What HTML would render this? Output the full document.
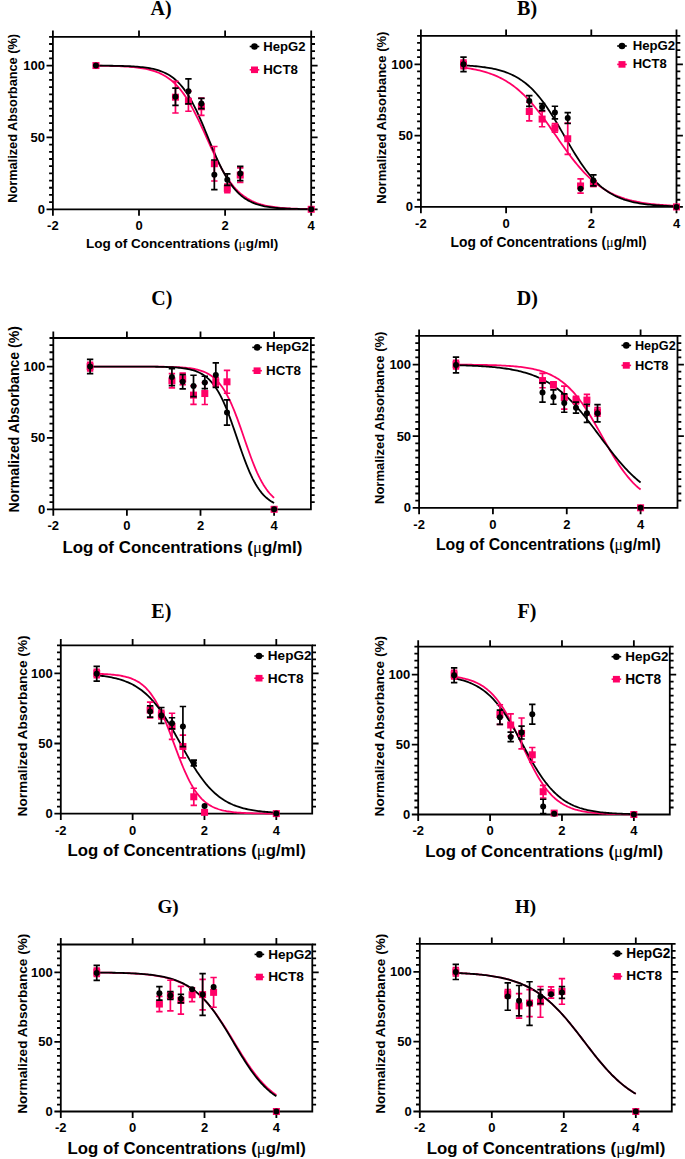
<!DOCTYPE html>
<html><head><meta charset="utf-8"><title>Dose response curves</title>
<style>html,body{margin:0;padding:0;background:#fff;}svg{display:block;}</style>
</head><body>
<svg width="685" height="1159" viewBox="0 0 685 1159" font-family='"Liberation Sans", sans-serif' font-weight="bold">
<rect width="685" height="1159" fill="#fff"/>
<g><path d="M52.9 36.8H311.2V209.3H52.9Z" fill="none" stroke="#000" stroke-width="1.8"/>
<path d="M52.9 209.3H46.5M311.2 209.3H317.6M52.9 202.11H49.1M311.2 202.11H315M52.9 194.93H49.1M311.2 194.93H315M52.9 187.74H49.1M311.2 187.74H315M52.9 180.55H49.1M311.2 180.55H315M52.9 173.36H49.1M311.2 173.36H315M52.9 166.18H49.1M311.2 166.18H315M52.9 158.99H49.1M311.2 158.99H315M52.9 151.8H49.1M311.2 151.8H315M52.9 144.61H49.1M311.2 144.61H315M52.9 137.43H46.5M311.2 137.43H317.6M52.9 130.24H49.1M311.2 130.24H315M52.9 123.05H49.1M311.2 123.05H315M52.9 115.86H49.1M311.2 115.86H315M52.9 108.68H49.1M311.2 108.68H315M52.9 101.49H49.1M311.2 101.49H315M52.9 94.3H49.1M311.2 94.3H315M52.9 87.11H49.1M311.2 87.11H315M52.9 79.93H49.1M311.2 79.93H315M52.9 72.74H49.1M311.2 72.74H315M52.9 65.55H46.5M311.2 65.55H317.6M52.9 58.36H49.1M311.2 58.36H315M52.9 51.18H49.1M311.2 51.18H315M52.9 43.99H49.1M311.2 43.99H315M52.9 36.8H49.1M311.2 36.8H315M52.9 209.3V215.7M52.9 36.8V30.4M139 209.3V215.7M139 36.8V30.4M225.1 209.3V215.7M225.1 36.8V30.4M311.2 209.3V215.7M311.2 36.8V30.4" fill="none" stroke="#000" stroke-width="1.8"/>
<text x="44.9" y="213.85" text-anchor="end" font-size="13">0</text>
<text x="44.9" y="141.98" text-anchor="end" font-size="13">50</text>
<text x="44.9" y="70.1" text-anchor="end" font-size="13">100</text>
<text x="52.9" y="230.2" text-anchor="middle" font-size="13">-2</text>
<text x="139" y="230.2" text-anchor="middle" font-size="13">0</text>
<text x="225.1" y="230.2" text-anchor="middle" font-size="13">2</text>
<text x="311.2" y="230.2" text-anchor="middle" font-size="13">4</text>
<polyline points="95.95,65.71 97.74,65.73 99.54,65.75 101.33,65.77 103.12,65.8 104.92,65.83 106.71,65.86 108.51,65.9 110.3,65.94 112.09,65.98 113.89,66.03 115.68,66.09 117.47,66.15 119.27,66.22 121.06,66.3 122.86,66.38 124.65,66.48 126.44,66.59 128.24,66.71 130.03,66.84 131.83,66.99 133.62,67.16 135.41,67.34 137.21,67.55 139,67.78 140.79,68.03 142.59,68.32 144.38,68.63 146.18,68.98 147.97,69.37 149.76,69.8 151.56,70.28 153.35,70.82 155.14,71.41 156.94,72.06 158.73,72.78 160.53,73.58 162.32,74.45 164.11,75.42 165.91,76.48 167.7,77.65 169.49,78.93 171.29,80.33 173.08,81.86 174.88,83.53 176.67,85.34 178.46,87.29 180.26,89.41 182.05,91.69 183.84,94.13 185.64,96.74 187.43,99.52 189.23,102.46 191.02,105.57 192.81,108.83 194.61,112.24 196.4,115.79 198.19,119.45 199.99,123.21 201.78,127.06 203.58,130.97 205.37,134.92 207.16,138.88 208.96,142.84 210.75,146.76 212.54,150.63 214.34,154.42 216.13,158.11 217.93,161.68 219.72,165.13 221.51,168.43 223.31,171.58 225.1,174.57 226.89,177.39 228.69,180.05 230.48,182.53 232.28,184.85 234.07,187.01 235.86,189.01 237.66,190.86 239.45,192.56 241.24,194.13 243.04,195.56 244.83,196.87 246.63,198.07 248.42,199.16 250.21,200.15 252.01,201.05 253.8,201.87 255.59,202.61 257.39,203.28 259.18,203.88 260.98,204.43 262.77,204.92 264.56,205.37 266.36,205.77 268.15,206.13 269.94,206.45 271.74,206.75 273.53,207.01 275.33,207.24 277.12,207.46 278.91,207.65 280.71,207.82 282.5,207.97 284.29,208.11 286.09,208.23 287.88,208.34 289.68,208.44 291.47,208.53 293.26,208.61 295.06,208.68 296.85,208.75 298.64,208.8 300.44,208.86 302.23,208.9 304.02,208.94 305.82,208.98 307.61,209.01 309.41,209.04 311.2,209.07" fill="none" stroke="#ff0066" stroke-width="1.8" stroke-linejoin="round"/>
<polyline points="95.95,65.62 97.74,65.63 99.54,65.64 101.33,65.65 103.12,65.67 104.92,65.68 106.71,65.7 108.51,65.72 110.3,65.74 112.09,65.76 113.89,65.79 115.68,65.82 117.47,65.86 119.27,65.9 121.06,65.94 122.86,65.99 124.65,66.05 126.44,66.11 128.24,66.18 130.03,66.27 131.83,66.36 133.62,66.46 135.41,66.58 137.21,66.71 139,66.86 140.79,67.03 142.59,67.22 144.38,67.43 146.18,67.67 147.97,67.94 149.76,68.25 151.56,68.59 153.35,68.97 155.14,69.41 156.94,69.89 158.73,70.44 160.53,71.04 162.32,71.73 164.11,72.49 165.91,73.34 167.7,74.28 169.49,75.34 171.29,76.51 173.08,77.81 174.88,79.25 176.67,80.83 178.46,82.58 180.26,84.5 182.05,86.59 183.84,88.88 185.64,91.35 187.43,94.04 189.23,96.92 191.02,100.01 192.81,103.31 194.61,106.79 196.4,110.47 198.19,114.31 199.99,118.31 201.78,122.44 203.58,126.68 205.37,131 207.16,135.36 208.96,139.74 210.75,144.1 212.54,148.41 214.34,152.64 216.13,156.76 217.93,160.76 219.72,164.59 221.51,168.26 223.31,171.73 225.1,175.02 226.89,178.1 228.69,180.97 230.48,183.64 232.28,186.11 234.07,188.38 235.86,190.47 237.66,192.37 239.45,194.11 241.24,195.69 243.04,197.12 244.83,198.41 246.63,199.57 248.42,200.62 250.21,201.56 252.01,202.41 253.8,203.17 255.59,203.84 257.39,204.45 259.18,204.99 260.98,205.47 262.77,205.9 264.56,206.28 266.36,206.62 268.15,206.92 269.94,207.19 271.74,207.43 273.53,207.64 275.33,207.83 277.12,208 278.91,208.15 280.71,208.28 282.5,208.39 284.29,208.5 286.09,208.59 287.88,208.67 289.68,208.74 291.47,208.81 293.26,208.86 295.06,208.91 296.85,208.96 298.64,209 300.44,209.03 302.23,209.06 304.02,209.09 305.82,209.11 307.61,209.13 309.41,209.15 311.2,209.17" fill="none" stroke="#000" stroke-width="1.8" stroke-linejoin="round"/>
<rect x="92.45" y="62.05" width="7" height="7" fill="#ff0066"/>
<path d="M175.46 112.99V81.36M172.26 112.99H178.66M172.26 81.36H178.66" stroke="#ff0066" stroke-width="1.7" fill="none"/>
<rect x="171.96" y="93.68" width="7" height="7" fill="#ff0066"/>
<path d="M188.42 111.26V91.14M185.22 111.26H191.62M185.22 91.14H191.62" stroke="#ff0066" stroke-width="1.7" fill="none"/>
<rect x="184.92" y="97.7" width="7" height="7" fill="#ff0066"/>
<path d="M201.38 115.43V98.18M198.18 115.43H204.58M198.18 98.18H204.58" stroke="#ff0066" stroke-width="1.7" fill="none"/>
<rect x="197.88" y="103.31" width="7" height="7" fill="#ff0066"/>
<path d="M214.34 180.98V146.48M211.14 180.98H217.54M211.14 146.48H217.54" stroke="#ff0066" stroke-width="1.7" fill="none"/>
<rect x="210.84" y="160.23" width="7" height="7" fill="#ff0066"/>
<path d="M227.3 192.77V184.14M224.1 192.77H230.5M224.1 184.14H230.5" stroke="#ff0066" stroke-width="1.7" fill="none"/>
<rect x="223.8" y="184.96" width="7" height="7" fill="#ff0066"/>
<path d="M240.25 182.28V167.9M237.05 182.28H243.45M237.05 167.9H243.45" stroke="#ff0066" stroke-width="1.7" fill="none"/>
<rect x="236.75" y="171.59" width="7" height="7" fill="#ff0066"/>
<rect x="307.7" y="205.8" width="7" height="7" fill="#ff0066"/>
<circle cx="95.95" cy="65.55" r="3.0" fill="#000"/>
<path d="M175.46 105.37V88.12M172.26 105.37H178.66M172.26 88.12H178.66" stroke="#000" stroke-width="1.7" fill="none"/>
<circle cx="175.46" cy="96.74" r="3.0" fill="#000"/>
<path d="M188.42 103.79V78.78M185.22 103.79H191.62M185.22 78.78H191.62" stroke="#000" stroke-width="1.7" fill="none"/>
<circle cx="188.42" cy="91.28" r="3.0" fill="#000"/>
<path d="M201.38 108.53V98.47M198.18 108.53H204.58M198.18 98.47H204.58" stroke="#000" stroke-width="1.7" fill="none"/>
<circle cx="201.38" cy="103.5" r="3.0" fill="#000"/>
<path d="M214.34 189.61V159.99M211.14 189.61H217.54M211.14 159.99H217.54" stroke="#000" stroke-width="1.7" fill="none"/>
<circle cx="214.34" cy="174.8" r="3.0" fill="#000"/>
<path d="M227.3 185.44V173.94M224.1 185.44H230.5M224.1 173.94H230.5" stroke="#000" stroke-width="1.7" fill="none"/>
<circle cx="227.3" cy="179.69" r="3.0" fill="#000"/>
<path d="M240.25 180.69V166.32M237.05 180.69H243.45M237.05 166.32H243.45" stroke="#000" stroke-width="1.7" fill="none"/>
<circle cx="240.25" cy="173.51" r="3.0" fill="#000"/>
<circle cx="311.2" cy="209.3" r="3.0" fill="#000"/>
<path d="M249.7 46.5H259.3" stroke="#000" stroke-width="1.6"/>
<circle cx="254.5" cy="46.5" r="3.3" fill="#000"/>
<text x="263.28" y="50.5" font-size="13.15" textLength="42.22" lengthAdjust="spacingAndGlyphs">HepG2</text>
<path d="M249.7 69.8H259.3" stroke="#ff0066" stroke-width="1.6"/>
<rect x="251" y="66.5" width="7" height="6.6" fill="#ff0066"/>
<text x="263.27" y="74.4" font-size="13.31" textLength="34.73" lengthAdjust="spacingAndGlyphs">HCT8</text>
<text x="85.96" y="248.2" font-size="13.47" textLength="192.25" lengthAdjust="spacingAndGlyphs">Log of Concentrations (<tspan font-family='"Liberation Serif", serif' font-weight="normal">&#956;</tspan>g/ml)</text>
<text transform="translate(17.1 202.79) rotate(-90)" font-size="12.75" textLength="168.86" lengthAdjust="spacingAndGlyphs">Normalized Absorbance (%)</text>
<text x="150.6" y="14.6" font-family='"Liberation Serif", serif' font-size="20">A)</text></g>
<g><path d="M420.9 35.8H676.5V206.9H420.9Z" fill="none" stroke="#000" stroke-width="1.8"/>
<path d="M420.9 206.9H414.5M676.5 206.9H682.9M420.9 199.77H417.1M676.5 199.77H680.3M420.9 192.64H417.1M676.5 192.64H680.3M420.9 185.51H417.1M676.5 185.51H680.3M420.9 178.38H417.1M676.5 178.38H680.3M420.9 171.25H417.1M676.5 171.25H680.3M420.9 164.12H417.1M676.5 164.12H680.3M420.9 157H417.1M676.5 157H680.3M420.9 149.87H417.1M676.5 149.87H680.3M420.9 142.74H417.1M676.5 142.74H680.3M420.9 135.61H414.5M676.5 135.61H682.9M420.9 128.48H417.1M676.5 128.48H680.3M420.9 121.35H417.1M676.5 121.35H680.3M420.9 114.22H417.1M676.5 114.22H680.3M420.9 107.09H417.1M676.5 107.09H680.3M420.9 99.96H417.1M676.5 99.96H680.3M420.9 92.83H417.1M676.5 92.83H680.3M420.9 85.7H417.1M676.5 85.7H680.3M420.9 78.57H417.1M676.5 78.57H680.3M420.9 71.45H417.1M676.5 71.45H680.3M420.9 64.32H414.5M676.5 64.32H682.9M420.9 57.19H417.1M676.5 57.19H680.3M420.9 50.06H417.1M676.5 50.06H680.3M420.9 42.93H417.1M676.5 42.93H680.3M420.9 35.8H417.1M676.5 35.8H680.3M420.9 206.9V213.3M420.9 35.8V29.4M506.1 206.9V213.3M506.1 35.8V29.4M591.3 206.9V213.3M591.3 35.8V29.4M676.5 206.9V213.3M676.5 35.8V29.4" fill="none" stroke="#000" stroke-width="1.8"/>
<text x="412.9" y="211.45" text-anchor="end" font-size="13">0</text>
<text x="412.9" y="140.16" text-anchor="end" font-size="13">50</text>
<text x="412.9" y="68.87" text-anchor="end" font-size="13">100</text>
<text x="420.9" y="227.8" text-anchor="middle" font-size="13">-2</text>
<text x="506.1" y="227.8" text-anchor="middle" font-size="13">0</text>
<text x="591.3" y="227.8" text-anchor="middle" font-size="13">2</text>
<text x="676.5" y="227.8" text-anchor="middle" font-size="13">4</text>
<polyline points="463.5,67.61 465.27,67.85 467.05,68.11 468.82,68.38 470.6,68.68 472.38,68.99 474.15,69.33 475.92,69.69 477.7,70.07 479.47,70.48 481.25,70.92 483.02,71.39 484.8,71.89 486.57,72.42 488.35,72.99 490.12,73.6 491.9,74.24 493.67,74.93 495.45,75.66 497.22,76.43 499,77.25 500.77,78.12 502.55,79.05 504.32,80.02 506.1,81.06 507.88,82.15 509.65,83.31 511.42,84.52 513.2,85.8 514.97,87.15 516.75,88.56 518.52,90.04 520.3,91.6 522.07,93.22 523.85,94.91 525.62,96.68 527.4,98.51 529.17,100.42 530.95,102.39 532.73,104.43 534.5,106.54 536.27,108.71 538.05,110.94 539.83,113.22 541.6,115.56 543.38,117.95 545.15,120.38 546.92,122.84 548.7,125.34 550.47,127.86 552.25,130.41 554.02,132.96 555.8,135.53 557.58,138.09 559.35,140.65 561.12,143.19 562.9,145.72 564.67,148.22 566.45,150.68 568.23,153.12 570,155.5 571.77,157.84 573.55,160.13 575.33,162.37 577.1,164.54 578.88,166.65 580.65,168.7 582.42,170.67 584.2,172.58 585.98,174.42 587.75,176.19 589.52,177.89 591.3,179.52 593.07,181.08 594.85,182.56 596.62,183.98 598.4,185.33 600.17,186.62 601.95,187.84 603.72,188.99 605.5,190.09 607.27,191.13 609.05,192.11 610.83,193.04 612.6,193.91 614.38,194.74 616.15,195.51 617.92,196.24 619.7,196.93 621.48,197.58 623.25,198.19 625.02,198.76 626.8,199.29 628.58,199.79 630.35,200.26 632.12,200.71 633.9,201.12 635.67,201.5 637.45,201.87 639.23,202.2 641,202.52 642.77,202.81 644.55,203.09 646.33,203.35 648.1,203.59 649.88,203.81 651.65,204.02 653.42,204.22 655.2,204.4 656.98,204.57 658.75,204.73 660.52,204.88 662.3,205.02 664.07,205.15 665.85,205.27 667.62,205.38 669.4,205.49 671.17,205.58 672.95,205.67 674.72,205.76 676.5,205.84" fill="none" stroke="#ff0066" stroke-width="1.8" stroke-linejoin="round"/>
<polyline points="463.5,65.37 465.27,65.47 467.05,65.57 468.82,65.68 470.6,65.81 472.38,65.94 474.15,66.08 475.92,66.24 477.7,66.41 479.47,66.6 481.25,66.8 483.02,67.02 484.8,67.26 486.57,67.52 488.35,67.8 490.12,68.1 491.9,68.43 493.67,68.79 495.45,69.18 497.22,69.61 499,70.06 500.77,70.56 502.55,71.1 504.32,71.68 506.1,72.3 507.88,72.98 509.65,73.71 511.42,74.5 513.2,75.34 514.97,76.25 516.75,77.23 518.52,78.28 520.3,79.41 522.07,80.62 523.85,81.9 525.62,83.28 527.4,84.74 529.17,86.3 530.95,87.96 532.73,89.71 534.5,91.56 536.27,93.51 538.05,95.57 539.83,97.73 541.6,99.99 543.38,102.35 545.15,104.8 546.92,107.35 548.7,109.99 550.47,112.71 552.25,115.51 554.02,118.38 555.8,121.3 557.58,124.28 559.35,127.3 561.12,130.35 562.9,133.42 564.67,136.49 566.45,139.57 568.23,142.63 570,145.66 571.77,148.66 573.55,151.61 575.33,154.5 577.1,157.33 578.88,160.08 580.65,162.76 582.42,165.34 584.2,167.84 585.98,170.24 587.75,172.54 589.52,174.74 591.3,176.84 593.07,178.84 594.85,180.73 596.62,182.53 598.4,184.22 600.17,185.82 601.95,187.33 603.72,188.74 605.5,190.07 607.27,191.31 609.05,192.47 610.83,193.55 612.6,194.56 614.38,195.5 616.15,196.37 617.92,197.18 619.7,197.93 621.48,198.63 623.25,199.28 625.02,199.88 626.8,200.43 628.58,200.95 630.35,201.42 632.12,201.86 633.9,202.26 635.67,202.63 637.45,202.98 639.23,203.29 641,203.58 642.77,203.85 644.55,204.1 646.33,204.33 648.1,204.54 649.88,204.73 651.65,204.91 653.42,205.07 655.2,205.22 656.98,205.36 658.75,205.48 660.52,205.6 662.3,205.71 664.07,205.8 665.85,205.89 667.62,205.98 669.4,206.05 671.17,206.12 672.95,206.19 674.72,206.24 676.5,206.3" fill="none" stroke="#000" stroke-width="1.8" stroke-linejoin="round"/>
<path d="M463.5 68.59V60.04M460.3 68.59H466.7M460.3 60.04H466.7" stroke="#ff0066" stroke-width="1.7" fill="none"/>
<rect x="460" y="60.82" width="7" height="7" fill="#ff0066"/>
<path d="M529.27 120.78V102.24M526.07 120.78H532.47M526.07 102.24H532.47" stroke="#ff0066" stroke-width="1.7" fill="none"/>
<rect x="525.77" y="108.01" width="7" height="7" fill="#ff0066"/>
<path d="M542.1 126.77V111.37M538.9 126.77H545.3M538.9 111.37H545.3" stroke="#ff0066" stroke-width="1.7" fill="none"/>
<rect x="538.6" y="115.57" width="7" height="7" fill="#ff0066"/>
<path d="M554.92 132.19V123.63M551.72 132.19H558.12M551.72 123.63H558.12" stroke="#ff0066" stroke-width="1.7" fill="none"/>
<rect x="551.42" y="124.41" width="7" height="7" fill="#ff0066"/>
<path d="M567.74 154.43V123.06M564.54 154.43H570.94M564.54 123.06H570.94" stroke="#ff0066" stroke-width="1.7" fill="none"/>
<rect x="564.24" y="135.25" width="7" height="7" fill="#ff0066"/>
<path d="M580.56 193.07V178.81M577.36 193.07H583.76M577.36 178.81H583.76" stroke="#ff0066" stroke-width="1.7" fill="none"/>
<rect x="577.06" y="182.44" width="7" height="7" fill="#ff0066"/>
<path d="M593.39 186.51V180.81M590.19 186.51H596.59M590.19 180.81H596.59" stroke="#ff0066" stroke-width="1.7" fill="none"/>
<rect x="589.89" y="180.16" width="7" height="7" fill="#ff0066"/>
<rect x="673" y="203.4" width="7" height="7" fill="#ff0066"/>
<path d="M463.5 71.59V57.04M460.3 71.59H466.7M460.3 57.04H466.7" stroke="#000" stroke-width="1.7" fill="none"/>
<circle cx="463.5" cy="64.32" r="3.0" fill="#000"/>
<path d="M529.27 106.38V95.54M526.07 106.38H532.47M526.07 95.54H532.47" stroke="#000" stroke-width="1.7" fill="none"/>
<circle cx="529.27" cy="100.96" r="3.0" fill="#000"/>
<path d="M542.1 110.66V103.53M538.9 110.66H545.3M538.9 103.53H545.3" stroke="#000" stroke-width="1.7" fill="none"/>
<circle cx="542.1" cy="107.09" r="3.0" fill="#000"/>
<path d="M554.92 118.78V106.24M551.72 118.78H558.12M551.72 106.24H558.12" stroke="#000" stroke-width="1.7" fill="none"/>
<circle cx="554.92" cy="112.51" r="3.0" fill="#000"/>
<path d="M567.74 123.49V112.65M564.54 123.49H570.94M564.54 112.65H570.94" stroke="#000" stroke-width="1.7" fill="none"/>
<circle cx="567.74" cy="118.07" r="3.0" fill="#000"/>
<circle cx="580.56" cy="188.65" r="3.0" fill="#000"/>
<path d="M593.39 185.8V174.96M590.19 185.8H596.59M590.19 174.96H596.59" stroke="#000" stroke-width="1.7" fill="none"/>
<circle cx="593.39" cy="180.38" r="3.0" fill="#000"/>
<circle cx="676.5" cy="206.9" r="3.0" fill="#000"/>
<path d="M617.2 46H626.8" stroke="#000" stroke-width="1.6"/>
<circle cx="622" cy="46" r="3.3" fill="#000"/>
<text x="632.67" y="49.9" font-size="13.25" textLength="42.52" lengthAdjust="spacingAndGlyphs">HepG2</text>
<path d="M617.2 64.4H626.8" stroke="#ff0066" stroke-width="1.6"/>
<rect x="618.5" y="61.1" width="7" height="6.6" fill="#ff0066"/>
<text x="632.69" y="68.4" font-size="13.03" textLength="34" lengthAdjust="spacingAndGlyphs">HCT8</text>
<text x="450.54" y="247.2" font-size="13.74" textLength="196.09" lengthAdjust="spacingAndGlyphs">Log of Concentrations (<tspan font-family='"Liberation Serif", serif' font-weight="normal">&#956;</tspan>g/ml)</text>
<text transform="translate(385.7 203.71) rotate(-90)" font-size="13" textLength="172.09" lengthAdjust="spacingAndGlyphs">Normalized Absorbance (%)</text>
<text x="517.1" y="14.6" font-family='"Liberation Serif", serif' font-size="20">B)</text></g>
<g><path d="M53.3 338H310.9V509.3H53.3Z" fill="none" stroke="#000" stroke-width="1.8"/>
<path d="M53.3 509.3H46.9M53.3 502.16H49.5M310.9 502.16H314.7M53.3 495.03H49.5M310.9 495.03H314.7M53.3 487.89H49.5M310.9 487.89H314.7M53.3 480.75H49.5M310.9 480.75H314.7M53.3 473.61H49.5M310.9 473.61H314.7M53.3 466.48H49.5M310.9 466.48H314.7M53.3 459.34H49.5M310.9 459.34H314.7M53.3 452.2H49.5M310.9 452.2H314.7M53.3 445.06H49.5M310.9 445.06H314.7M53.3 437.93H46.9M310.9 437.93H317.3M53.3 430.79H49.5M310.9 430.79H314.7M53.3 423.65H49.5M310.9 423.65H314.7M53.3 416.51H49.5M310.9 416.51H314.7M53.3 409.38H49.5M310.9 409.38H314.7M53.3 402.24H49.5M310.9 402.24H314.7M53.3 395.1H49.5M310.9 395.1H314.7M53.3 387.96H49.5M310.9 387.96H314.7M53.3 380.83H49.5M310.9 380.83H314.7M53.3 373.69H49.5M310.9 373.69H314.7M53.3 366.55H46.9M310.9 366.55H317.3M53.3 359.41H49.5M310.9 359.41H314.7M53.3 352.27H49.5M310.9 352.27H314.7M53.3 345.14H49.5M310.9 345.14H314.7M53.3 338H49.5M310.9 338H314.7M53.3 509.3V515.7M53.3 338V331.6M126.9 509.3V515.7M126.9 338V331.6M200.5 509.3V515.7M200.5 338V331.6M274.1 509.3V515.7M274.1 338V331.6" fill="none" stroke="#000" stroke-width="1.8"/>
<text x="45.3" y="513.85" text-anchor="end" font-size="13">0</text>
<text x="45.3" y="442.48" text-anchor="end" font-size="13">50</text>
<text x="45.3" y="371.1" text-anchor="end" font-size="13">100</text>
<text x="53.3" y="530.2" text-anchor="middle" font-size="13">-2</text>
<text x="126.9" y="530.2" text-anchor="middle" font-size="13">0</text>
<text x="200.5" y="530.2" text-anchor="middle" font-size="13">2</text>
<text x="274.1" y="530.2" text-anchor="middle" font-size="13">4</text>
<polyline points="90.1,366.55 91.63,366.55 93.17,366.55 94.7,366.55 96.23,366.55 97.77,366.55 99.3,366.55 100.83,366.55 102.37,366.55 103.9,366.55 105.43,366.55 106.97,366.55 108.5,366.55 110.03,366.55 111.57,366.55 113.1,366.55 114.63,366.55 116.17,366.55 117.7,366.55 119.23,366.56 120.77,366.56 122.3,366.56 123.83,366.56 125.37,366.56 126.9,366.56 128.43,366.56 129.97,366.56 131.5,366.57 133.03,366.57 134.57,366.57 136.1,366.57 137.63,366.57 139.17,366.58 140.7,366.58 142.23,366.59 143.77,366.59 145.3,366.6 146.83,366.6 148.37,366.61 149.9,366.62 151.43,366.63 152.97,366.64 154.5,366.65 156.03,366.66 157.57,366.68 159.1,366.69 160.63,366.71 162.17,366.73 163.7,366.76 165.23,366.78 166.77,366.81 168.3,366.85 169.83,366.89 171.37,366.93 172.9,366.98 174.43,367.04 175.97,367.11 177.5,367.18 179.03,367.26 180.57,367.36 182.1,367.46 183.63,367.59 185.17,367.72 186.7,367.88 188.23,368.05 189.77,368.25 191.3,368.47 192.83,368.72 194.37,369 195.9,369.32 197.43,369.68 198.97,370.09 200.5,370.55 202.03,371.06 203.57,371.64 205.1,372.29 206.63,373.02 208.17,373.83 209.7,374.74 211.23,375.76 212.77,376.9 214.3,378.16 215.83,379.56 217.37,381.11 218.9,382.82 220.43,384.71 221.97,386.78 223.5,389.05 225.03,391.51 226.57,394.19 228.1,397.07 229.63,400.17 231.17,403.48 232.7,407 234.23,410.71 235.77,414.6 237.3,418.65 238.83,422.84 240.37,427.15 241.9,431.53 243.43,435.97 244.97,440.42 246.5,444.85 248.03,449.22 249.57,453.52 251.1,457.69 252.63,461.73 254.17,465.6 255.7,469.29 257.23,472.78 258.77,476.06 260.3,479.14 261.83,482 263.37,484.65 264.9,487.09 266.43,489.33 267.97,491.37 269.5,493.24 271.03,494.93 272.57,496.47 274.1,497.85" fill="none" stroke="#ff0066" stroke-width="1.8" stroke-linejoin="round"/>
<polyline points="90.1,366.55 91.63,366.55 93.17,366.55 94.7,366.55 96.23,366.55 97.77,366.55 99.3,366.55 100.83,366.55 102.37,366.55 103.9,366.55 105.43,366.55 106.97,366.55 108.5,366.55 110.03,366.55 111.57,366.55 113.1,366.56 114.63,366.56 116.17,366.56 117.7,366.56 119.23,366.56 120.77,366.56 122.3,366.56 123.83,366.56 125.37,366.56 126.9,366.57 128.43,366.57 129.97,366.57 131.5,366.57 133.03,366.58 134.57,366.58 136.1,366.58 137.63,366.59 139.17,366.59 140.7,366.6 142.23,366.61 143.77,366.61 145.3,366.62 146.83,366.63 148.37,366.64 149.9,366.66 151.43,366.67 152.97,366.69 154.5,366.71 156.03,366.73 157.57,366.75 159.1,366.78 160.63,366.81 162.17,366.85 163.7,366.89 165.23,366.93 166.77,366.98 168.3,367.04 169.83,367.11 171.37,367.18 172.9,367.26 174.43,367.36 175.97,367.47 177.5,367.59 179.03,367.73 180.57,367.89 182.1,368.07 183.63,368.27 185.17,368.5 186.7,368.76 188.23,369.05 189.77,369.39 191.3,369.76 192.83,370.18 194.37,370.66 195.9,371.2 197.43,371.8 198.97,372.48 200.5,373.24 202.03,374.1 203.57,375.06 205.1,376.13 206.63,377.32 208.17,378.66 209.7,380.13 211.23,381.77 212.77,383.58 214.3,385.58 215.83,387.76 217.37,390.15 218.9,392.75 220.43,395.57 221.97,398.61 223.5,401.87 225.03,405.34 226.57,409.02 228.1,412.89 229.63,416.94 231.17,421.14 232.7,425.47 234.23,429.9 235.77,434.38 237.3,438.9 238.83,443.41 240.37,447.88 241.9,452.26 243.43,456.54 244.97,460.68 246.5,464.65 248.03,468.44 249.57,472.03 251.1,475.41 252.63,478.58 254.17,481.52 255.7,484.25 257.23,486.76 258.77,489.06 260.3,491.16 261.83,493.07 263.37,494.81 264.9,496.37 266.43,497.79 267.97,499.06 269.5,500.2 271.03,501.22 272.57,502.13 274.1,502.95" fill="none" stroke="#000" stroke-width="1.8" stroke-linejoin="round"/>
<path d="M90.1 370.83V362.27M86.9 370.83H93.3M86.9 362.27H93.3" stroke="#ff0066" stroke-width="1.7" fill="none"/>
<rect x="86.6" y="363.05" width="7" height="7" fill="#ff0066"/>
<path d="M171.91 387.96V373.69M168.71 387.96H175.11M168.71 373.69H175.11" stroke="#ff0066" stroke-width="1.7" fill="none"/>
<rect x="168.41" y="377.33" width="7" height="7" fill="#ff0066"/>
<path d="M182.69 384.54V373.12M179.49 384.54H185.89M179.49 373.12H185.89" stroke="#ff0066" stroke-width="1.7" fill="none"/>
<rect x="179.19" y="375.33" width="7" height="7" fill="#ff0066"/>
<path d="M193.51 404.38V385.82M190.31 404.38H196.71M190.31 385.82H196.71" stroke="#ff0066" stroke-width="1.7" fill="none"/>
<rect x="190.01" y="391.6" width="7" height="7" fill="#ff0066"/>
<path d="M204.81 404.52V382.54M201.61 404.52H208.01M201.61 382.54H208.01" stroke="#ff0066" stroke-width="1.7" fill="none"/>
<rect x="201.31" y="390.03" width="7" height="7" fill="#ff0066"/>
<path d="M215.81 386.11V377.54M212.61 386.11H219.01M212.61 377.54H219.01" stroke="#ff0066" stroke-width="1.7" fill="none"/>
<rect x="212.31" y="378.32" width="7" height="7" fill="#ff0066"/>
<path d="M227 393.24V370.4M223.8 393.24H230.2M223.8 370.4H230.2" stroke="#ff0066" stroke-width="1.7" fill="none"/>
<rect x="223.5" y="378.32" width="7" height="7" fill="#ff0066"/>
<rect x="270.6" y="505.8" width="7" height="7" fill="#ff0066"/>
<path d="M90.1 373.69V359.41M86.9 373.69H93.3M86.9 359.41H93.3" stroke="#000" stroke-width="1.7" fill="none"/>
<circle cx="90.1" cy="366.55" r="3.0" fill="#000"/>
<path d="M171.91 385.68V368.55M168.71 385.68H175.11M168.71 368.55H175.11" stroke="#000" stroke-width="1.7" fill="none"/>
<circle cx="171.91" cy="377.11" r="3.0" fill="#000"/>
<path d="M182.69 388.96V374.69M179.49 388.96H185.89M179.49 374.69H185.89" stroke="#000" stroke-width="1.7" fill="none"/>
<circle cx="182.69" cy="381.82" r="3.0" fill="#000"/>
<path d="M193.51 396.67V375.26M190.31 396.67H196.71M190.31 375.26H196.71" stroke="#000" stroke-width="1.7" fill="none"/>
<circle cx="193.51" cy="385.96" r="3.0" fill="#000"/>
<path d="M204.81 388.53V376.26M201.61 388.53H208.01M201.61 376.26H208.01" stroke="#000" stroke-width="1.7" fill="none"/>
<circle cx="204.81" cy="382.4" r="3.0" fill="#000"/>
<path d="M215.81 387.39V362.84M212.61 387.39H219.01M212.61 362.84H219.01" stroke="#000" stroke-width="1.7" fill="none"/>
<circle cx="215.81" cy="375.12" r="3.0" fill="#000"/>
<path d="M227 425.08V399.95M223.8 425.08H230.2M223.8 399.95H230.2" stroke="#000" stroke-width="1.7" fill="none"/>
<circle cx="227" cy="412.52" r="3.0" fill="#000"/>
<circle cx="274.1" cy="509.3" r="3.0" fill="#000"/>
<path d="M252.3 347.4H261.9" stroke="#000" stroke-width="1.6"/>
<circle cx="257.1" cy="347.4" r="3.3" fill="#000"/>
<text x="266.06" y="351.4" font-size="13.38" textLength="42.94" lengthAdjust="spacingAndGlyphs">HepG2</text>
<path d="M252.3 370.7H261.9" stroke="#ff0066" stroke-width="1.6"/>
<rect x="253.6" y="367.4" width="7" height="6.6" fill="#ff0066"/>
<text x="266.06" y="375.2" font-size="13.39" textLength="34.94" lengthAdjust="spacingAndGlyphs">HCT8</text>
<text x="62.42" y="552.7" font-size="16.81" textLength="239.89" lengthAdjust="spacingAndGlyphs">Log of Concentrations (<tspan font-family='"Liberation Serif", serif' font-weight="normal">&#956;</tspan>g/ml)</text>
<text transform="translate(19 512.39) rotate(-90)" font-size="14.07" textLength="186.33" lengthAdjust="spacingAndGlyphs">Normalized Absorbance (%)</text>
<text x="151.3" y="305" font-family='"Liberation Serif", serif' font-size="20">C)</text></g>
<g><path d="M419.1 335.9H677.5V507.8H419.1Z" fill="none" stroke="#000" stroke-width="1.8"/>
<path d="M419.1 507.8H412.7M419.1 500.64H415.3M677.5 500.64H681.3M419.1 493.48H415.3M677.5 493.48H681.3M419.1 486.31H415.3M677.5 486.31H681.3M419.1 479.15H415.3M677.5 479.15H681.3M419.1 471.99H415.3M677.5 471.99H681.3M419.1 464.82H415.3M677.5 464.82H681.3M419.1 457.66H415.3M677.5 457.66H681.3M419.1 450.5H415.3M677.5 450.5H681.3M419.1 443.34H415.3M677.5 443.34H681.3M419.1 436.18H412.7M677.5 436.18H683.9M419.1 429.01H415.3M677.5 429.01H681.3M419.1 421.85H415.3M677.5 421.85H681.3M419.1 414.69H415.3M677.5 414.69H681.3M419.1 407.52H415.3M677.5 407.52H681.3M419.1 400.36H415.3M677.5 400.36H681.3M419.1 393.2H415.3M677.5 393.2H681.3M419.1 386.04H415.3M677.5 386.04H681.3M419.1 378.88H415.3M677.5 378.88H681.3M419.1 371.71H415.3M677.5 371.71H681.3M419.1 364.55H412.7M677.5 364.55H683.9M419.1 357.39H415.3M677.5 357.39H681.3M419.1 350.22H415.3M677.5 350.22H681.3M419.1 343.06H415.3M677.5 343.06H681.3M419.1 335.9H415.3M677.5 335.9H681.3M419.1 507.8V514.2M419.1 335.9V329.5M492.93 507.8V514.2M492.93 335.9V329.5M566.76 507.8V514.2M566.76 335.9V329.5M640.59 507.8V514.2M640.59 335.9V329.5" fill="none" stroke="#000" stroke-width="1.8"/>
<text x="411.1" y="512.35" text-anchor="end" font-size="13">0</text>
<text x="411.1" y="440.73" text-anchor="end" font-size="13">50</text>
<text x="411.1" y="369.1" text-anchor="end" font-size="13">100</text>
<text x="419.1" y="528.7" text-anchor="middle" font-size="13">-2</text>
<text x="492.93" y="528.7" text-anchor="middle" font-size="13">0</text>
<text x="566.76" y="528.7" text-anchor="middle" font-size="13">2</text>
<text x="640.59" y="528.7" text-anchor="middle" font-size="13">4</text>
<polyline points="456.01,364.65 457.55,364.66 459.09,364.66 460.63,364.67 462.17,364.68 463.7,364.69 465.24,364.71 466.78,364.72 468.32,364.73 469.86,364.75 471.4,364.76 472.93,364.78 474.47,364.8 476.01,364.82 477.55,364.84 479.09,364.86 480.62,364.88 482.16,364.91 483.7,364.94 485.24,364.97 486.78,365 488.31,365.04 489.85,365.08 491.39,365.12 492.93,365.17 494.47,365.22 496,365.27 497.54,365.33 499.08,365.39 500.62,365.45 502.16,365.53 503.7,365.6 505.23,365.69 506.77,365.78 508.31,365.87 509.85,365.98 511.39,366.09 512.92,366.21 514.46,366.34 516,366.48 517.54,366.63 519.08,366.8 520.61,366.97 522.15,367.16 523.69,367.37 525.23,367.59 526.77,367.83 528.3,368.08 529.84,368.36 531.38,368.65 532.92,368.97 534.46,369.31 536,369.67 537.53,370.07 539.07,370.49 540.61,370.94 542.15,371.43 543.69,371.95 545.22,372.5 546.76,373.1 548.3,373.74 549.84,374.42 551.38,375.15 552.91,375.93 554.45,376.76 555.99,377.65 557.53,378.59 559.07,379.59 560.6,380.66 562.14,381.79 563.68,382.98 565.22,384.25 566.76,385.59 568.3,387.01 569.83,388.5 571.37,390.07 572.91,391.72 574.45,393.45 575.99,395.26 577.52,397.15 579.06,399.13 580.6,401.18 582.14,403.31 583.68,405.52 585.21,407.8 586.75,410.15 588.29,412.57 589.83,415.05 591.37,417.59 592.9,420.18 594.44,422.81 595.98,425.48 597.52,428.18 599.06,430.91 600.6,433.65 602.13,436.39 603.67,439.14 605.21,441.88 606.75,444.6 608.29,447.3 609.82,449.96 611.36,452.59 612.9,455.17 614.44,457.7 615.98,460.17 617.51,462.58 619.05,464.92 620.59,467.19 622.13,469.38 623.67,471.5 625.2,473.54 626.74,475.5 628.28,477.38 629.82,479.18 631.36,480.9 632.9,482.54 634.43,484.09 635.97,485.57 637.51,486.98 639.05,488.31 640.59,489.56" fill="none" stroke="#ff0066" stroke-width="1.8" stroke-linejoin="round"/>
<polyline points="456.01,365.18 457.55,365.22 459.09,365.26 460.63,365.3 462.17,365.35 463.7,365.4 465.24,365.45 466.78,365.5 468.32,365.56 469.86,365.62 471.4,365.68 472.93,365.74 474.47,365.82 476.01,365.89 477.55,365.97 479.09,366.05 480.62,366.14 482.16,366.24 483.7,366.34 485.24,366.44 486.78,366.55 488.31,366.67 489.85,366.79 491.39,366.93 492.93,367.06 494.47,367.21 496,367.37 497.54,367.53 499.08,367.71 500.62,367.89 502.16,368.08 503.7,368.29 505.23,368.51 506.77,368.74 508.31,368.98 509.85,369.23 511.39,369.5 512.92,369.79 514.46,370.09 516,370.4 517.54,370.74 519.08,371.09 520.61,371.46 522.15,371.85 523.69,372.27 525.23,372.7 526.77,373.16 528.3,373.64 529.84,374.14 531.38,374.68 532.92,375.24 534.46,375.82 536,376.44 537.53,377.09 539.07,377.77 540.61,378.48 542.15,379.22 543.69,380 545.22,380.82 546.76,381.68 548.3,382.57 549.84,383.5 551.38,384.48 552.91,385.49 554.45,386.55 555.99,387.65 557.53,388.79 559.07,389.98 560.6,391.22 562.14,392.5 563.68,393.83 565.22,395.2 566.76,396.62 568.3,398.08 569.83,399.59 571.37,401.15 572.91,402.75 574.45,404.4 575.99,406.08 577.52,407.81 579.06,409.58 580.6,411.39 582.14,413.24 583.68,415.12 585.21,417.03 586.75,418.97 588.29,420.94 589.83,422.93 591.37,424.95 592.9,426.98 594.44,429.03 595.98,431.09 597.52,433.16 599.06,435.23 600.6,437.3 602.13,439.38 603.67,441.44 605.21,443.5 606.75,445.55 608.29,447.58 609.82,449.6 611.36,451.59 612.9,453.55 614.44,455.49 615.98,457.4 617.51,459.28 619.05,461.12 620.59,462.92 622.13,464.69 623.67,466.42 625.2,468.1 626.74,469.74 628.28,471.34 629.82,472.89 631.36,474.4 632.9,475.86 634.43,477.27 635.97,478.64 637.51,479.97 639.05,481.24 640.59,482.47" fill="none" stroke="#000" stroke-width="1.8" stroke-linejoin="round"/>
<path d="M456.01 368.85V360.25M452.81 368.85H459.21M452.81 360.25H459.21" stroke="#ff0066" stroke-width="1.7" fill="none"/>
<rect x="452.51" y="361.05" width="7" height="7" fill="#ff0066"/>
<path d="M542.5 387.76V373.43M539.3 387.76H545.7M539.3 373.43H545.7" stroke="#ff0066" stroke-width="1.7" fill="none"/>
<rect x="539" y="377.09" width="7" height="7" fill="#ff0066"/>
<path d="M553.43 387.61V381.88M550.23 387.61H556.63M550.23 381.88H556.63" stroke="#ff0066" stroke-width="1.7" fill="none"/>
<rect x="549.93" y="381.25" width="7" height="7" fill="#ff0066"/>
<path d="M564.25 409.1V386.18M561.05 409.1H567.45M561.05 386.18H567.45" stroke="#ff0066" stroke-width="1.7" fill="none"/>
<rect x="560.75" y="394.14" width="7" height="7" fill="#ff0066"/>
<path d="M575.99 403.8V396.35M572.79 403.8H579.19M572.79 396.35H579.19" stroke="#ff0066" stroke-width="1.7" fill="none"/>
<rect x="572.49" y="396.58" width="7" height="7" fill="#ff0066"/>
<path d="M586.91 405.81V394.35M583.71 405.81H590.11M583.71 394.35H590.11" stroke="#ff0066" stroke-width="1.7" fill="none"/>
<rect x="583.41" y="396.58" width="7" height="7" fill="#ff0066"/>
<path d="M597.51 416.12V407.52M594.31 416.12H600.71M594.31 407.52H600.71" stroke="#ff0066" stroke-width="1.7" fill="none"/>
<rect x="594.01" y="408.32" width="7" height="7" fill="#ff0066"/>
<rect x="637.09" y="504.3" width="7" height="7" fill="#ff0066"/>
<path d="M456.01 372.86V357.1M452.81 372.86H459.21M452.81 357.1H459.21" stroke="#000" stroke-width="1.7" fill="none"/>
<circle cx="456.01" cy="364.98" r="3.0" fill="#000"/>
<path d="M542.5 402.08V382.89M539.3 402.08H545.7M539.3 382.89H545.7" stroke="#000" stroke-width="1.7" fill="none"/>
<circle cx="542.5" cy="392.48" r="3.0" fill="#000"/>
<path d="M553.43 404.23V389.91M550.23 404.23H556.63M550.23 389.91H556.63" stroke="#000" stroke-width="1.7" fill="none"/>
<circle cx="553.43" cy="397.07" r="3.0" fill="#000"/>
<path d="M564.25 412.25V393.92M561.05 412.25H567.45M561.05 393.92H567.45" stroke="#000" stroke-width="1.7" fill="none"/>
<circle cx="564.25" cy="403.08" r="3.0" fill="#000"/>
<path d="M575.99 413.11V402.22M572.79 413.11H579.19M572.79 402.22H579.19" stroke="#000" stroke-width="1.7" fill="none"/>
<circle cx="575.99" cy="407.67" r="3.0" fill="#000"/>
<path d="M586.91 422.28V404.23M583.71 422.28H590.11M583.71 404.23H590.11" stroke="#000" stroke-width="1.7" fill="none"/>
<circle cx="586.91" cy="413.25" r="3.0" fill="#000"/>
<path d="M597.51 421.85V404.66M594.31 421.85H600.71M594.31 404.66H600.71" stroke="#000" stroke-width="1.7" fill="none"/>
<circle cx="597.51" cy="413.25" r="3.0" fill="#000"/>
<circle cx="640.59" cy="507.8" r="3.0" fill="#000"/>
<path d="M621.5 345.4H631.1" stroke="#000" stroke-width="1.6"/>
<circle cx="626.3" cy="345.4" r="3.3" fill="#000"/>
<text x="634.91" y="349.5" font-size="12.7" textLength="40.77" lengthAdjust="spacingAndGlyphs">HepG2</text>
<path d="M621.5 365.4H631.1" stroke="#ff0066" stroke-width="1.6"/>
<rect x="622.8" y="362.1" width="7" height="6.6" fill="#ff0066"/>
<text x="634.9" y="369.7" font-size="12.83" textLength="33.48" lengthAdjust="spacingAndGlyphs">HCT8</text>
<text x="435.9" y="549.9" font-size="15.76" textLength="224.95" lengthAdjust="spacingAndGlyphs">Log of Concentrations (<tspan font-family='"Liberation Serif", serif' font-weight="normal">&#956;</tspan>g/ml)</text>
<text transform="translate(384.1 504.01) rotate(-90)" font-size="13.02" textLength="172.39" lengthAdjust="spacingAndGlyphs">Normalized Absorbance (%)</text>
<text x="516.8" y="304.6" font-family='"Liberation Serif", serif' font-size="20">D)</text></g>
<g><path d="M60.8 645.4H312.2V813.6H60.8Z" fill="none" stroke="#000" stroke-width="1.8"/>
<path d="M60.8 813.6H54.4M60.8 806.59H57M312.2 806.59H316M60.8 799.58H57M312.2 799.58H316M60.8 792.58H57M312.2 792.58H316M60.8 785.57H57M312.2 785.57H316M60.8 778.56H57M312.2 778.56H316M60.8 771.55H57M312.2 771.55H316M60.8 764.54H57M312.2 764.54H316M60.8 757.53H57M312.2 757.53H316M60.8 750.52H57M312.2 750.52H316M60.8 743.52H54.4M312.2 743.52H318.6M60.8 736.51H57M312.2 736.51H316M60.8 729.5H57M312.2 729.5H316M60.8 722.49H57M312.2 722.49H316M60.8 715.48H57M312.2 715.48H316M60.8 708.48H57M312.2 708.48H316M60.8 701.47H57M312.2 701.47H316M60.8 694.46H57M312.2 694.46H316M60.8 687.45H57M312.2 687.45H316M60.8 680.44H57M312.2 680.44H316M60.8 673.43H54.4M312.2 673.43H318.6M60.8 666.42H57M312.2 666.42H316M60.8 659.42H57M312.2 659.42H316M60.8 652.41H57M312.2 652.41H316M60.8 645.4H57M312.2 645.4H316M60.8 813.6V820M60.8 645.4V639M132.63 813.6V820M132.63 645.4V639M204.46 813.6V820M204.46 645.4V639M276.29 813.6V820M276.29 645.4V639" fill="none" stroke="#000" stroke-width="1.8"/>
<text x="52.8" y="818.15" text-anchor="end" font-size="13">0</text>
<text x="52.8" y="748.07" text-anchor="end" font-size="13">50</text>
<text x="52.8" y="677.98" text-anchor="end" font-size="13">100</text>
<text x="60.8" y="834.5" text-anchor="middle" font-size="13">-2</text>
<text x="132.63" y="834.5" text-anchor="middle" font-size="13">0</text>
<text x="204.46" y="834.5" text-anchor="middle" font-size="13">2</text>
<text x="276.29" y="834.5" text-anchor="middle" font-size="13">4</text>
<polyline points="96.71,673.8 98.21,673.85 99.71,673.9 101.2,673.95 102.7,674.02 104.2,674.09 105.69,674.17 107.19,674.25 108.69,674.35 110.18,674.46 111.68,674.59 113.17,674.73 114.67,674.89 116.17,675.06 117.66,675.26 119.16,675.48 120.66,675.72 122.15,676 123.65,676.3 125.15,676.64 126.64,677.03 128.14,677.45 129.64,677.93 131.13,678.45 132.63,679.04 134.12,679.7 135.62,680.42 137.12,681.23 138.61,682.12 140.11,683.11 141.61,684.2 143.1,685.4 144.6,686.72 146.1,688.17 147.59,689.76 149.09,691.49 150.59,693.38 152.08,695.44 153.58,697.66 155.07,700.05 156.57,702.62 158.07,705.37 159.56,708.3 161.06,711.4 162.56,714.67 164.05,718.1 165.55,721.68 167.05,725.38 168.54,729.2 170.04,733.11 171.54,737.08 173.03,741.1 174.53,745.13 176.02,749.15 177.52,753.14 179.02,757.06 180.51,760.9 182.01,764.63 183.51,768.23 185,771.69 186.5,774.99 188,778.13 189.49,781.09 190.99,783.87 192.49,786.48 193.98,788.91 195.48,791.17 196.97,793.25 198.47,795.17 199.97,796.94 201.46,798.56 202.96,800.03 204.46,801.38 205.95,802.61 207.45,803.72 208.95,804.72 210.44,805.63 211.94,806.46 213.44,807.2 214.93,807.87 216.43,808.47 217.93,809.01 219.42,809.49 220.92,809.93 222.41,810.32 223.91,810.67 225.41,810.98 226.9,811.26 228.4,811.51 229.9,811.73 231.39,811.93 232.89,812.11 234.39,812.27 235.88,812.42 237.38,812.54 238.88,812.66 240.37,812.76 241.87,812.85 243.36,812.93 244.86,813 246.36,813.07 247.85,813.13 249.35,813.18 250.85,813.22 252.34,813.26 253.84,813.3 255.34,813.33 256.83,813.36 258.33,813.39 259.82,813.41 261.32,813.43 262.82,813.45 264.31,813.47 265.81,813.48 267.31,813.49 268.8,813.51 270.3,813.52 271.8,813.52 273.29,813.53 274.79,813.54 276.29,813.55" fill="none" stroke="#ff0066" stroke-width="1.8" stroke-linejoin="round"/>
<polyline points="96.71,675.32 98.21,675.47 99.71,675.63 101.2,675.81 102.7,675.99 104.2,676.19 105.69,676.41 107.19,676.64 108.69,676.89 110.18,677.16 111.68,677.45 113.17,677.76 114.67,678.09 116.17,678.45 117.66,678.83 119.16,679.24 120.66,679.69 122.15,680.16 123.65,680.67 125.15,681.22 126.64,681.8 128.14,682.43 129.64,683.09 131.13,683.81 132.63,684.57 134.12,685.38 135.62,686.25 137.12,687.17 138.61,688.15 140.11,689.19 141.61,690.3 143.1,691.47 144.6,692.71 146.1,694.02 147.59,695.41 149.09,696.87 150.59,698.4 152.08,700.02 153.58,701.71 155.07,703.48 156.57,705.34 158.07,707.27 159.56,709.28 161.06,711.36 162.56,713.52 164.05,715.75 165.55,718.05 167.05,720.42 168.54,722.85 170.04,725.33 171.54,727.86 173.03,730.44 174.53,733.05 176.02,735.7 177.52,738.36 179.02,741.04 180.51,743.73 182.01,746.42 183.51,749.1 185,751.76 186.5,754.4 188,757.01 189.49,759.58 190.99,762.1 192.49,764.58 193.98,767 195.48,769.35 196.97,771.64 198.47,773.86 199.97,776.01 201.46,778.08 202.96,780.08 204.46,782 205.95,783.84 207.45,785.6 208.95,787.28 210.44,788.88 211.94,790.4 213.44,791.85 214.93,793.23 216.43,794.53 217.93,795.76 219.42,796.92 220.92,798.01 222.41,799.04 223.91,800.02 225.41,800.93 226.9,801.79 228.4,802.59 229.9,803.34 231.39,804.05 232.89,804.71 234.39,805.33 235.88,805.91 237.38,806.45 238.88,806.95 240.37,807.42 241.87,807.86 243.36,808.27 244.86,808.65 246.36,809 247.85,809.33 249.35,809.64 250.85,809.92 252.34,810.19 253.84,810.43 255.34,810.66 256.83,810.87 258.33,811.07 259.82,811.26 261.32,811.43 262.82,811.58 264.31,811.73 265.81,811.87 267.31,811.99 268.8,812.11 270.3,812.22 271.8,812.32 273.29,812.42 274.79,812.5 276.29,812.58" fill="none" stroke="#000" stroke-width="1.8" stroke-linejoin="round"/>
<path d="M96.71 677.64V669.23M93.51 677.64H99.91M93.51 669.23H99.91" stroke="#ff0066" stroke-width="1.7" fill="none"/>
<rect x="93.21" y="669.93" width="7" height="7" fill="#ff0066"/>
<path d="M150.12 717.87V702.17M146.92 717.87H153.32M146.92 702.17H153.32" stroke="#ff0066" stroke-width="1.7" fill="none"/>
<rect x="146.62" y="706.52" width="7" height="7" fill="#ff0066"/>
<path d="M161.36 718.85V710.44M158.16 718.85H164.56M158.16 710.44H164.56" stroke="#ff0066" stroke-width="1.7" fill="none"/>
<rect x="157.86" y="711.14" width="7" height="7" fill="#ff0066"/>
<path d="M172.03 739.31V713.24M168.83 739.31H175.23M168.83 713.24H175.23" stroke="#ff0066" stroke-width="1.7" fill="none"/>
<rect x="168.53" y="722.78" width="7" height="7" fill="#ff0066"/>
<path d="M182.91 757.81V735.11M179.71 757.81H186.11M179.71 735.11H186.11" stroke="#ff0066" stroke-width="1.7" fill="none"/>
<rect x="179.41" y="742.96" width="7" height="7" fill="#ff0066"/>
<path d="M193.79 805.33V788.23M190.59 805.33H196.99M190.59 788.23H196.99" stroke="#ff0066" stroke-width="1.7" fill="none"/>
<rect x="190.29" y="793.28" width="7" height="7" fill="#ff0066"/>
<rect x="201.06" y="808.84" width="7" height="7" fill="#ff0066"/>
<rect x="272.79" y="810.1" width="7" height="7" fill="#ff0066"/>
<path d="M96.71 681.14V666.28M93.51 681.14H99.91M93.51 666.28H99.91" stroke="#000" stroke-width="1.7" fill="none"/>
<circle cx="96.71" cy="673.71" r="3.0" fill="#000"/>
<path d="M150.12 717.17V705.95M146.92 717.17H153.32M146.92 705.95H153.32" stroke="#000" stroke-width="1.7" fill="none"/>
<circle cx="150.12" cy="711.56" r="3.0" fill="#000"/>
<path d="M161.36 723.47V707.49M158.16 723.47H164.56M158.16 707.49H164.56" stroke="#000" stroke-width="1.7" fill="none"/>
<circle cx="161.36" cy="715.48" r="3.0" fill="#000"/>
<path d="M172.03 728.94V717.73M168.83 728.94H175.23M168.83 717.73H175.23" stroke="#000" stroke-width="1.7" fill="none"/>
<circle cx="172.03" cy="723.33" r="3.0" fill="#000"/>
<path d="M182.91 746.6V706.51M179.71 746.6H186.11M179.71 706.51H186.11" stroke="#000" stroke-width="1.7" fill="none"/>
<circle cx="182.91" cy="726.56" r="3.0" fill="#000"/>
<path d="M193.79 765.8V760.2M190.59 765.8H196.99M190.59 760.2H196.99" stroke="#000" stroke-width="1.7" fill="none"/>
<circle cx="193.79" cy="763" r="3.0" fill="#000"/>
<circle cx="204.56" cy="805.89" r="3.0" fill="#000"/>
<circle cx="276.29" cy="813.6" r="3.0" fill="#000"/>
<path d="M254.2 656H263.8" stroke="#000" stroke-width="1.6"/>
<circle cx="259" cy="656" r="3.3" fill="#000"/>
<text x="267.85" y="660.2" font-size="13.6" textLength="43.66" lengthAdjust="spacingAndGlyphs">HepG2</text>
<path d="M254.2 678.2H263.8" stroke="#ff0066" stroke-width="1.6"/>
<rect x="255.5" y="674.9" width="7" height="6.6" fill="#ff0066"/>
<text x="267.84" y="682.6" font-size="13.67" textLength="35.67" lengthAdjust="spacingAndGlyphs">HCT8</text>
<text x="67.63" y="856.1" font-size="16.69" textLength="238.17" lengthAdjust="spacingAndGlyphs">Log of Concentrations (<tspan font-family='"Liberation Serif", serif' font-weight="normal">&#956;</tspan>g/ml)</text>
<text transform="translate(26.6 816.46) rotate(-90)" font-size="13.68" textLength="181.08" lengthAdjust="spacingAndGlyphs">Normalized Absorbance (%)</text>
<text x="151.3" y="617.5" font-family='"Liberation Serif", serif' font-size="20">E)</text></g>
<g><path d="M418.2 646.7H669.8V814.5H418.2Z" fill="none" stroke="#000" stroke-width="1.8"/>
<path d="M418.2 814.5H411.8M418.2 807.51H414.4M669.8 807.51H673.6M418.2 800.52H414.4M669.8 800.52H673.6M418.2 793.52H414.4M669.8 793.52H673.6M418.2 786.53H414.4M669.8 786.53H673.6M418.2 779.54H414.4M669.8 779.54H673.6M418.2 772.55H414.4M669.8 772.55H673.6M418.2 765.56H414.4M669.8 765.56H673.6M418.2 758.57H414.4M669.8 758.57H673.6M418.2 751.58H414.4M669.8 751.58H673.6M418.2 744.58H411.8M669.8 744.58H676.2M418.2 737.59H414.4M669.8 737.59H673.6M418.2 730.6H414.4M669.8 730.6H673.6M418.2 723.61H414.4M669.8 723.61H673.6M418.2 716.62H414.4M669.8 716.62H673.6M418.2 709.62H414.4M669.8 709.62H673.6M418.2 702.63H414.4M669.8 702.63H673.6M418.2 695.64H414.4M669.8 695.64H673.6M418.2 688.65H414.4M669.8 688.65H673.6M418.2 681.66H414.4M669.8 681.66H673.6M418.2 674.67H411.8M669.8 674.67H676.2M418.2 667.68H414.4M669.8 667.68H673.6M418.2 660.68H414.4M669.8 660.68H673.6M418.2 653.69H414.4M669.8 653.69H673.6M418.2 646.7H414.4M669.8 646.7H673.6M418.2 814.5V820.9M418.2 646.7V640.3M490.09 814.5V820.9M490.09 646.7V640.3M561.97 814.5V820.9M561.97 646.7V640.3M633.86 814.5V820.9M633.86 646.7V640.3" fill="none" stroke="#000" stroke-width="1.8"/>
<text x="410.2" y="819.05" text-anchor="end" font-size="13">0</text>
<text x="410.2" y="749.13" text-anchor="end" font-size="13">50</text>
<text x="410.2" y="679.22" text-anchor="end" font-size="13">100</text>
<text x="418.2" y="835.4" text-anchor="middle" font-size="13">-2</text>
<text x="490.09" y="835.4" text-anchor="middle" font-size="13">0</text>
<text x="561.97" y="835.4" text-anchor="middle" font-size="13">2</text>
<text x="633.86" y="835.4" text-anchor="middle" font-size="13">4</text>
<polyline points="454.14,676.78 455.64,676.98 457.14,677.2 458.64,677.44 460.13,677.71 461.63,677.99 463.13,678.31 464.63,678.65 466.12,679.02 467.62,679.43 469.12,679.87 470.62,680.36 472.11,680.88 473.61,681.45 475.11,682.08 476.61,682.75 478.1,683.48 479.6,684.28 481.1,685.14 482.6,686.07 484.1,687.07 485.59,688.15 487.09,689.32 488.59,690.58 490.09,691.93 491.58,693.37 493.08,694.92 494.58,696.57 496.08,698.33 497.57,700.2 499.07,702.18 500.57,704.28 502.07,706.49 503.56,708.82 505.06,711.25 506.56,713.8 508.06,716.46 509.55,719.21 511.05,722.06 512.55,724.99 514.05,728 515.55,731.07 517.04,734.21 518.54,737.38 520.04,740.59 521.54,743.81 523.03,747.03 524.53,750.25 526.03,753.44 527.53,756.59 529.02,759.7 530.52,762.74 532.02,765.71 533.52,768.6 535.01,771.4 536.51,774.1 538.01,776.7 539.51,779.19 541,781.57 542.5,783.84 544,785.99 545.5,788.03 547,789.95 548.49,791.77 549.99,793.47 551.49,795.07 552.99,796.56 554.48,797.95 555.98,799.25 557.48,800.46 558.98,801.59 560.47,802.63 561.97,803.59 563.47,804.49 564.97,805.31 566.46,806.07 567.96,806.77 569.46,807.42 570.96,808.02 572.45,808.56 573.95,809.07 575.45,809.53 576.95,809.95 578.45,810.34 579.94,810.7 581.44,811.02 582.94,811.32 584.44,811.6 585.93,811.85 587.43,812.08 588.93,812.29 590.43,812.48 591.92,812.66 593.42,812.82 594.92,812.96 596.42,813.1 597.91,813.22 599.41,813.33 600.91,813.43 602.41,813.53 603.9,813.61 605.4,813.69 606.9,813.76 608.4,813.83 609.9,813.89 611.39,813.94 612.89,813.99 614.39,814.03 615.89,814.07 617.38,814.11 618.88,814.15 620.38,814.18 621.88,814.21 623.37,814.23 624.87,814.26 626.37,814.28 627.87,814.3 629.36,814.31 630.86,814.33 632.36,814.35 633.86,814.36" fill="none" stroke="#ff0066" stroke-width="1.8" stroke-linejoin="round"/>
<polyline points="454.14,678.34 455.64,678.64 457.14,678.95 458.64,679.29 460.13,679.66 461.63,680.05 463.13,680.48 464.63,680.93 466.12,681.42 467.62,681.95 469.12,682.52 470.62,683.12 472.11,683.77 473.61,684.47 475.11,685.21 476.61,686.01 478.1,686.86 479.6,687.77 481.1,688.73 482.6,689.76 484.1,690.86 485.59,692.03 487.09,693.26 488.59,694.57 490.09,695.96 491.58,697.42 493.08,698.97 494.58,700.6 496.08,702.3 497.57,704.1 499.07,705.97 500.57,707.93 502.07,709.98 503.56,712.1 505.06,714.31 506.56,716.59 508.06,718.94 509.55,721.36 511.05,723.85 512.55,726.4 514.05,728.99 515.55,731.64 517.04,734.32 518.54,737.04 520.04,739.78 521.54,742.53 523.03,745.29 524.53,748.05 526.03,750.79 527.53,753.52 529.02,756.22 530.52,758.89 532.02,761.51 533.52,764.08 535.01,766.6 536.51,769.05 538.01,771.44 539.51,773.76 541,776 542.5,778.16 544,780.25 545.5,782.25 547,784.16 548.49,786 549.99,787.75 551.49,789.41 552.99,791 554.48,792.5 555.98,793.93 557.48,795.27 558.98,796.55 560.47,797.75 561.97,798.88 563.47,799.94 564.97,800.94 566.46,801.87 567.96,802.75 569.46,803.57 570.96,804.34 572.45,805.06 573.95,805.73 575.45,806.36 576.95,806.95 578.45,807.49 579.94,808 581.44,808.47 582.94,808.91 584.44,809.32 585.93,809.7 587.43,810.05 588.93,810.38 590.43,810.68 591.92,810.97 593.42,811.23 594.92,811.47 596.42,811.7 597.91,811.91 599.41,812.1 600.91,812.28 602.41,812.44 603.9,812.6 605.4,812.74 606.9,812.87 608.4,813 609.9,813.11 611.39,813.21 612.89,813.31 614.39,813.4 615.89,813.48 617.38,813.56 618.88,813.63 620.38,813.7 621.88,813.76 623.37,813.81 624.87,813.86 626.37,813.91 627.87,813.96 629.36,814 630.86,814.04 632.36,814.07 633.86,814.1" fill="none" stroke="#000" stroke-width="1.8" stroke-linejoin="round"/>
<path d="M454.14 678.86V670.47M450.94 678.86H457.34M450.94 670.47H457.34" stroke="#ff0066" stroke-width="1.7" fill="none"/>
<rect x="450.64" y="671.17" width="7" height="7" fill="#ff0066"/>
<path d="M499.9 724.31V704.73M496.7 724.31H503.1M496.7 704.73H503.1" stroke="#ff0066" stroke-width="1.7" fill="none"/>
<rect x="496.4" y="711.02" width="7" height="7" fill="#ff0066"/>
<path d="M510.68 736.19V713.82M507.48 736.19H513.88M507.48 713.82H513.88" stroke="#ff0066" stroke-width="1.7" fill="none"/>
<rect x="507.18" y="721.51" width="7" height="7" fill="#ff0066"/>
<path d="M521.57 748.78V718.01M518.37 748.78H524.77M518.37 718.01H524.77" stroke="#ff0066" stroke-width="1.7" fill="none"/>
<rect x="518.07" y="729.9" width="7" height="7" fill="#ff0066"/>
<path d="M532.28 762.06V747.52M529.08 762.06H535.48M529.08 747.52H535.48" stroke="#ff0066" stroke-width="1.7" fill="none"/>
<rect x="528.78" y="751.29" width="7" height="7" fill="#ff0066"/>
<path d="M543.17 798V785.41M539.97 798H546.37M539.97 785.41H546.37" stroke="#ff0066" stroke-width="1.7" fill="none"/>
<rect x="539.67" y="788.21" width="7" height="7" fill="#ff0066"/>
<rect x="550.67" y="809.6" width="7" height="7" fill="#ff0066"/>
<rect x="630.36" y="811" width="7" height="7" fill="#ff0066"/>
<path d="M454.14 682.64V667.81M450.94 682.64H457.34M450.94 667.81H457.34" stroke="#000" stroke-width="1.7" fill="none"/>
<circle cx="454.14" cy="675.23" r="3.0" fill="#000"/>
<path d="M499.9 724.45V710.18M496.7 724.45H503.1M496.7 710.18H503.1" stroke="#000" stroke-width="1.7" fill="none"/>
<circle cx="499.9" cy="717.32" r="3.0" fill="#000"/>
<path d="M510.68 741.65V732.14M507.48 741.65H513.88M507.48 732.14H513.88" stroke="#000" stroke-width="1.7" fill="none"/>
<circle cx="510.68" cy="736.89" r="3.0" fill="#000"/>
<path d="M521.57 738.99V726.13M518.37 738.99H524.77M518.37 726.13H524.77" stroke="#000" stroke-width="1.7" fill="none"/>
<circle cx="521.57" cy="732.56" r="3.0" fill="#000"/>
<path d="M532.28 724.03V704.45M529.08 724.03H535.48M529.08 704.45H535.48" stroke="#000" stroke-width="1.7" fill="none"/>
<circle cx="532.28" cy="714.24" r="3.0" fill="#000"/>
<path d="M543.17 813.52V799.26M539.97 813.52H546.37M539.97 799.26H546.37" stroke="#000" stroke-width="1.7" fill="none"/>
<circle cx="543.17" cy="806.39" r="3.0" fill="#000"/>
<circle cx="554.17" cy="813.66" r="3.0" fill="#000"/>
<circle cx="633.86" cy="814.5" r="3.0" fill="#000"/>
<path d="M611.6 656.7H621.2" stroke="#000" stroke-width="1.6"/>
<circle cx="616.4" cy="656.7" r="3.3" fill="#000"/>
<text x="625.25" y="661" font-size="13.5" textLength="43.35" lengthAdjust="spacingAndGlyphs">HepG2</text>
<path d="M611.6 679.2H621.2" stroke="#ff0066" stroke-width="1.6"/>
<rect x="612.9" y="675.9" width="7" height="6.6" fill="#ff0066"/>
<text x="625.24" y="683.7" font-size="13.71" textLength="35.77" lengthAdjust="spacingAndGlyphs">HCT8</text>
<text x="425.33" y="857" font-size="16.65" textLength="237.67" lengthAdjust="spacingAndGlyphs">Log of Concentrations (<tspan font-family='"Liberation Serif", serif' font-weight="normal">&#956;</tspan>g/ml)</text>
<text transform="translate(384.1 816.45) rotate(-90)" font-size="13.64" textLength="180.57" lengthAdjust="spacingAndGlyphs">Normalized Absorbance (%)</text>
<text x="517.5" y="617.5" font-family='"Liberation Serif", serif' font-size="20">F)</text></g>
<g><path d="M60.8 944.5H312.3V1111.5H60.8Z" fill="none" stroke="#000" stroke-width="1.8"/>
<path d="M60.8 1111.5H54.4M60.8 1104.54H57M312.3 1104.54H316.1M60.8 1097.58H57M312.3 1097.58H316.1M60.8 1090.62H57M312.3 1090.62H316.1M60.8 1083.67H57M312.3 1083.67H316.1M60.8 1076.71H57M312.3 1076.71H316.1M60.8 1069.75H57M312.3 1069.75H316.1M60.8 1062.79H57M312.3 1062.79H316.1M60.8 1055.83H57M312.3 1055.83H316.1M60.8 1048.88H57M312.3 1048.88H316.1M60.8 1041.92H54.4M312.3 1041.92H318.7M60.8 1034.96H57M312.3 1034.96H316.1M60.8 1028H57M312.3 1028H316.1M60.8 1021.04H57M312.3 1021.04H316.1M60.8 1014.08H57M312.3 1014.08H316.1M60.8 1007.12H57M312.3 1007.12H316.1M60.8 1000.17H57M312.3 1000.17H316.1M60.8 993.21H57M312.3 993.21H316.1M60.8 986.25H57M312.3 986.25H316.1M60.8 979.29H57M312.3 979.29H316.1M60.8 972.33H54.4M312.3 972.33H318.7M60.8 965.38H57M312.3 965.38H316.1M60.8 958.42H57M312.3 958.42H316.1M60.8 951.46H57M312.3 951.46H316.1M60.8 944.5H57M312.3 944.5H316.1M60.8 1111.5V1117.9M60.8 944.5V938.1M132.66 1111.5V1117.9M132.66 944.5V938.1M204.51 1111.5V1117.9M204.51 944.5V938.1M276.37 1111.5V1117.9M276.37 944.5V938.1" fill="none" stroke="#000" stroke-width="1.8"/>
<text x="52.8" y="1116.05" text-anchor="end" font-size="13">0</text>
<text x="52.8" y="1046.47" text-anchor="end" font-size="13">50</text>
<text x="52.8" y="976.88" text-anchor="end" font-size="13">100</text>
<text x="60.8" y="1132.4" text-anchor="middle" font-size="13">-2</text>
<text x="132.66" y="1132.4" text-anchor="middle" font-size="13">0</text>
<text x="204.51" y="1132.4" text-anchor="middle" font-size="13">2</text>
<text x="276.37" y="1132.4" text-anchor="middle" font-size="13">4</text>
<polyline points="96.73,972.54 98.23,972.56 99.72,972.57 101.22,972.59 102.72,972.61 104.21,972.63 105.71,972.65 107.21,972.67 108.7,972.7 110.2,972.73 111.7,972.75 113.2,972.78 114.69,972.82 116.19,972.85 117.69,972.89 119.18,972.93 120.68,972.98 122.18,973.02 123.67,973.07 125.17,973.13 126.67,973.19 128.17,973.25 129.66,973.32 131.16,973.39 132.66,973.46 134.15,973.55 135.65,973.63 137.15,973.73 138.65,973.83 140.14,973.94 141.64,974.06 143.14,974.18 144.63,974.32 146.13,974.46 147.63,974.61 149.12,974.78 150.62,974.95 152.12,975.14 153.62,975.35 155.11,975.56 156.61,975.79 158.11,976.04 159.6,976.31 161.1,976.59 162.6,976.89 164.09,977.22 165.59,977.56 167.09,977.93 168.59,978.33 170.08,978.75 171.58,979.2 173.08,979.67 174.57,980.18 176.07,980.73 177.57,981.3 179.06,981.92 180.56,982.57 182.06,983.27 183.56,984 185.05,984.78 186.55,985.61 188.05,986.49 189.54,987.42 191.04,988.4 192.54,989.44 194.04,990.53 195.53,991.68 197.03,992.9 198.53,994.17 200.02,995.51 201.52,996.92 203.02,998.39 204.51,999.92 206.01,1001.53 207.51,1003.2 209.01,1004.94 210.5,1006.75 212,1008.62 213.5,1010.55 214.99,1012.55 216.49,1014.61 217.99,1016.73 219.48,1018.9 220.98,1021.13 222.48,1023.4 223.98,1025.72 225.47,1028.07 226.97,1030.46 228.47,1032.88 229.96,1035.32 231.46,1037.77 232.96,1040.24 234.45,1042.71 235.95,1045.17 237.45,1047.63 238.95,1050.08 240.44,1052.5 241.94,1054.9 243.44,1057.27 244.93,1059.6 246.43,1061.89 247.93,1064.13 249.43,1066.33 250.92,1068.46 252.42,1070.55 253.92,1072.57 255.41,1074.53 256.91,1076.42 258.41,1078.25 259.9,1080.01 261.4,1081.71 262.9,1083.34 264.4,1084.9 265.89,1086.39 267.39,1087.82 268.89,1089.18 270.38,1090.48 271.88,1091.72 273.38,1092.89 274.87,1094.01 276.37,1095.07" fill="none" stroke="#ff0066" stroke-width="1.8" stroke-linejoin="round"/>
<polyline points="96.73,972.51 98.23,972.53 99.72,972.54 101.22,972.56 102.72,972.57 104.21,972.59 105.71,972.61 107.21,972.63 108.7,972.65 110.2,972.68 111.7,972.7 113.2,972.73 114.69,972.76 116.19,972.79 117.69,972.83 119.18,972.87 120.68,972.91 122.18,972.95 123.67,972.99 125.17,973.04 126.67,973.1 128.17,973.16 129.66,973.22 131.16,973.28 132.66,973.36 134.15,973.43 135.65,973.51 137.15,973.6 138.65,973.7 140.14,973.8 141.64,973.91 143.14,974.03 144.63,974.16 146.13,974.29 147.63,974.44 149.12,974.59 150.62,974.76 152.12,974.94 153.62,975.14 155.11,975.35 156.61,975.57 158.11,975.81 159.6,976.06 161.1,976.34 162.6,976.63 164.09,976.95 165.59,977.28 167.09,977.64 168.59,978.03 170.08,978.44 171.58,978.88 173.08,979.35 174.57,979.86 176.07,980.39 177.57,980.97 179.06,981.58 180.56,982.23 182.06,982.92 183.56,983.66 185.05,984.44 186.55,985.27 188.05,986.15 189.54,987.09 191.04,988.08 192.54,989.13 194.04,990.24 195.53,991.41 197.03,992.64 198.53,993.94 200.02,995.31 201.52,996.74 203.02,998.25 204.51,999.82 206.01,1001.47 207.51,1003.19 209.01,1004.98 210.5,1006.83 212,1008.76 213.5,1010.76 214.99,1012.82 216.49,1014.95 217.99,1017.14 219.48,1019.39 220.98,1021.69 222.48,1024.04 223.98,1026.43 225.47,1028.86 226.97,1031.33 228.47,1033.82 229.96,1036.34 231.46,1038.87 232.96,1041.41 234.45,1043.95 235.95,1046.48 237.45,1049 238.95,1051.51 240.44,1053.99 241.94,1056.43 243.44,1058.84 244.93,1061.21 246.43,1063.53 247.93,1065.8 249.43,1068.01 250.92,1070.16 252.42,1072.25 253.92,1074.28 255.41,1076.24 256.91,1078.12 258.41,1079.94 259.9,1081.69 261.4,1083.36 262.9,1084.96 264.4,1086.5 265.89,1087.96 267.39,1089.35 268.89,1090.68 270.38,1091.94 271.88,1093.13 273.38,1094.27 274.87,1095.34 276.37,1096.35" fill="none" stroke="#000" stroke-width="1.8" stroke-linejoin="round"/>
<path d="M96.73 976.51V968.16M93.53 976.51H99.93M93.53 968.16H99.93" stroke="#ff0066" stroke-width="1.7" fill="none"/>
<rect x="93.23" y="968.83" width="7" height="7" fill="#ff0066"/>
<path d="M159.39 1011.72V996.41M156.19 1011.72H162.59M156.19 996.41H162.59" stroke="#ff0066" stroke-width="1.7" fill="none"/>
<rect x="155.89" y="1000.56" width="7" height="7" fill="#ff0066"/>
<path d="M170.38 1010.88V980.27M167.18 1010.88H173.58M167.18 980.27H173.58" stroke="#ff0066" stroke-width="1.7" fill="none"/>
<rect x="166.88" y="992.07" width="7" height="7" fill="#ff0066"/>
<path d="M180.91 1014.22V986.39M177.71 1014.22H184.11M177.71 986.39H184.11" stroke="#ff0066" stroke-width="1.7" fill="none"/>
<rect x="177.41" y="996.81" width="7" height="7" fill="#ff0066"/>
<path d="M192.08 1001.7V987.78M188.88 1001.7H195.28M188.88 987.78H195.28" stroke="#ff0066" stroke-width="1.7" fill="none"/>
<rect x="188.58" y="991.24" width="7" height="7" fill="#ff0066"/>
<path d="M202.61 1009.91V979.29M199.41 1009.91H205.81M199.41 979.29H205.81" stroke="#ff0066" stroke-width="1.7" fill="none"/>
<rect x="199.11" y="991.1" width="7" height="7" fill="#ff0066"/>
<path d="M213.6 1007.26V977.48M210.4 1007.26H216.8M210.4 977.48H216.8" stroke="#ff0066" stroke-width="1.7" fill="none"/>
<rect x="210.1" y="988.87" width="7" height="7" fill="#ff0066"/>
<rect x="272.87" y="1108" width="7" height="7" fill="#ff0066"/>
<path d="M96.73 980.4V965.38M93.53 980.4H99.93M93.53 965.38H99.93" stroke="#000" stroke-width="1.7" fill="none"/>
<circle cx="96.73" cy="972.89" r="3.0" fill="#000"/>
<path d="M159.39 1000.17V986.53M156.19 1000.17H162.59M156.19 986.53H162.59" stroke="#000" stroke-width="1.7" fill="none"/>
<circle cx="159.39" cy="993.35" r="3.0" fill="#000"/>
<path d="M170.38 999.47V991.68M167.18 999.47H173.58M167.18 991.68H173.58" stroke="#000" stroke-width="1.7" fill="none"/>
<circle cx="170.38" cy="995.57" r="3.0" fill="#000"/>
<path d="M180.91 1002.81V994.46M177.71 1002.81H184.11M177.71 994.46H184.11" stroke="#000" stroke-width="1.7" fill="none"/>
<circle cx="180.91" cy="998.64" r="3.0" fill="#000"/>
<circle cx="192.08" cy="989.31" r="3.0" fill="#000"/>
<path d="M202.61 1015.34V973.59M199.41 1015.34H205.81M199.41 973.59H205.81" stroke="#000" stroke-width="1.7" fill="none"/>
<circle cx="202.61" cy="994.46" r="3.0" fill="#000"/>
<circle cx="213.6" cy="987.09" r="3.0" fill="#000"/>
<circle cx="276.37" cy="1111.5" r="3.0" fill="#000"/>
<path d="M254.6 954.4H264.2" stroke="#000" stroke-width="1.6"/>
<circle cx="259.4" cy="954.4" r="3.3" fill="#000"/>
<text x="268.25" y="958.6" font-size="13.6" textLength="43.66" lengthAdjust="spacingAndGlyphs">HepG2</text>
<path d="M254.6 977H264.2" stroke="#ff0066" stroke-width="1.6"/>
<rect x="255.9" y="973.7" width="7" height="6.6" fill="#ff0066"/>
<text x="268.24" y="981.1" font-size="13.67" textLength="35.67" lengthAdjust="spacingAndGlyphs">HCT8</text>
<text x="67.63" y="1154.2" font-size="16.69" textLength="238.17" lengthAdjust="spacingAndGlyphs">Log of Concentrations (<tspan font-family='"Liberation Serif", serif' font-weight="normal">&#956;</tspan>g/ml)</text>
<text transform="translate(26.6 1113.85) rotate(-90)" font-size="13.61" textLength="180.17" lengthAdjust="spacingAndGlyphs">Normalized Absorbance (%)</text>
<text x="157.52" y="912.5" font-family='"Liberation Serif", serif' font-size="19">G)</text></g>
<g><path d="M419.8 943.9H671.8V1111.5H419.8Z" fill="none" stroke="#000" stroke-width="1.8"/>
<path d="M419.8 1111.5H413.4M419.8 1104.52H416M671.8 1104.52H675.6M419.8 1097.53H416M671.8 1097.53H675.6M419.8 1090.55H416M671.8 1090.55H675.6M419.8 1083.57H416M671.8 1083.57H675.6M419.8 1076.58H416M671.8 1076.58H675.6M419.8 1069.6H416M671.8 1069.6H675.6M419.8 1062.62H416M671.8 1062.62H675.6M419.8 1055.63H416M671.8 1055.63H675.6M419.8 1048.65H416M671.8 1048.65H675.6M419.8 1041.67H413.4M671.8 1041.67H678.2M419.8 1034.68H416M671.8 1034.68H675.6M419.8 1027.7H416M671.8 1027.7H675.6M419.8 1020.72H416M671.8 1020.72H675.6M419.8 1013.73H416M671.8 1013.73H675.6M419.8 1006.75H416M671.8 1006.75H675.6M419.8 999.77H416M671.8 999.77H675.6M419.8 992.78H416M671.8 992.78H675.6M419.8 985.8H416M671.8 985.8H675.6M419.8 978.82H416M671.8 978.82H675.6M419.8 971.83H413.4M671.8 971.83H678.2M419.8 964.85H416M671.8 964.85H675.6M419.8 957.87H416M671.8 957.87H675.6M419.8 950.88H416M671.8 950.88H675.6M419.8 943.9H416M671.8 943.9H675.6M419.8 1111.5V1117.9M419.8 943.9V937.5M491.8 1111.5V1117.9M491.8 943.9V937.5M563.8 1111.5V1117.9M563.8 943.9V937.5M635.8 1111.5V1117.9M635.8 943.9V937.5" fill="none" stroke="#000" stroke-width="1.8"/>
<text x="411.8" y="1116.05" text-anchor="end" font-size="13">0</text>
<text x="411.8" y="1046.22" text-anchor="end" font-size="13">50</text>
<text x="411.8" y="976.38" text-anchor="end" font-size="13">100</text>
<text x="419.8" y="1132.4" text-anchor="middle" font-size="13">-2</text>
<text x="491.8" y="1132.4" text-anchor="middle" font-size="13">0</text>
<text x="563.8" y="1132.4" text-anchor="middle" font-size="13">2</text>
<text x="635.8" y="1132.4" text-anchor="middle" font-size="13">4</text>
<polyline points="455.8,972.95 457.3,973.02 458.8,973.09 460.3,973.16 461.8,973.23 463.3,973.31 464.8,973.4 466.3,973.49 467.8,973.58 469.3,973.68 470.8,973.79 472.3,973.9 473.8,974.02 475.3,974.14 476.8,974.27 478.3,974.41 479.8,974.56 481.3,974.71 482.8,974.87 484.3,975.05 485.8,975.23 487.3,975.42 488.8,975.62 490.3,975.83 491.8,976.06 493.3,976.29 494.8,976.54 496.3,976.81 497.8,977.08 499.3,977.37 500.8,977.68 502.3,978 503.8,978.34 505.3,978.7 506.8,979.08 508.3,979.48 509.8,979.89 511.3,980.33 512.8,980.79 514.3,981.27 515.8,981.78 517.3,982.31 518.8,982.87 520.3,983.45 521.8,984.07 523.3,984.71 524.8,985.38 526.3,986.09 527.8,986.82 529.3,987.59 530.8,988.39 532.3,989.23 533.8,990.11 535.3,991.02 536.8,991.97 538.3,992.96 539.8,993.99 541.3,995.05 542.8,996.16 544.3,997.31 545.8,998.5 547.3,999.74 548.8,1001.02 550.3,1002.33 551.8,1003.7 553.3,1005.1 554.8,1006.55 556.3,1008.03 557.8,1009.56 559.3,1011.13 560.8,1012.74 562.3,1014.38 563.8,1016.06 565.3,1017.78 566.8,1019.53 568.3,1021.31 569.8,1023.12 571.3,1024.96 572.8,1026.82 574.3,1028.71 575.8,1030.61 577.3,1032.53 578.8,1034.47 580.3,1036.42 581.8,1038.37 583.3,1040.33 584.8,1042.29 586.3,1044.26 587.8,1046.21 589.3,1048.17 590.8,1050.11 592.3,1052.03 593.8,1053.94 595.3,1055.84 596.8,1057.71 598.3,1059.56 599.8,1061.38 601.3,1063.17 602.8,1064.93 604.3,1066.66 605.8,1068.35 607.3,1070.01 608.8,1071.63 610.3,1073.21 611.8,1074.76 613.3,1076.26 614.8,1077.72 616.3,1079.14 617.8,1080.51 619.3,1081.85 620.8,1083.14 622.3,1084.39 623.8,1085.6 625.3,1086.76 626.8,1087.89 628.3,1088.97 629.8,1090.01 631.3,1091.01 632.8,1091.98 634.3,1092.9 635.8,1093.79" fill="none" stroke="#ff0066" stroke-width="1.8" stroke-linejoin="round"/>
<polyline points="455.8,972.95 457.3,973.02 458.8,973.09 460.3,973.16 461.8,973.23 463.3,973.31 464.8,973.4 466.3,973.49 467.8,973.58 469.3,973.68 470.8,973.79 472.3,973.9 473.8,974.02 475.3,974.14 476.8,974.27 478.3,974.41 479.8,974.56 481.3,974.71 482.8,974.87 484.3,975.05 485.8,975.23 487.3,975.42 488.8,975.62 490.3,975.83 491.8,976.06 493.3,976.29 494.8,976.54 496.3,976.81 497.8,977.08 499.3,977.37 500.8,977.68 502.3,978 503.8,978.34 505.3,978.7 506.8,979.08 508.3,979.48 509.8,979.89 511.3,980.33 512.8,980.79 514.3,981.27 515.8,981.78 517.3,982.31 518.8,982.87 520.3,983.45 521.8,984.07 523.3,984.71 524.8,985.38 526.3,986.09 527.8,986.82 529.3,987.59 530.8,988.39 532.3,989.23 533.8,990.11 535.3,991.02 536.8,991.97 538.3,992.96 539.8,993.99 541.3,995.05 542.8,996.16 544.3,997.31 545.8,998.5 547.3,999.74 548.8,1001.02 550.3,1002.33 551.8,1003.7 553.3,1005.1 554.8,1006.55 556.3,1008.03 557.8,1009.56 559.3,1011.13 560.8,1012.74 562.3,1014.38 563.8,1016.06 565.3,1017.78 566.8,1019.53 568.3,1021.31 569.8,1023.12 571.3,1024.96 572.8,1026.82 574.3,1028.71 575.8,1030.61 577.3,1032.53 578.8,1034.47 580.3,1036.42 581.8,1038.37 583.3,1040.33 584.8,1042.29 586.3,1044.26 587.8,1046.21 589.3,1048.17 590.8,1050.11 592.3,1052.03 593.8,1053.94 595.3,1055.84 596.8,1057.71 598.3,1059.56 599.8,1061.38 601.3,1063.17 602.8,1064.93 604.3,1066.66 605.8,1068.35 607.3,1070.01 608.8,1071.63 610.3,1073.21 611.8,1074.76 613.3,1076.26 614.8,1077.72 616.3,1079.14 617.8,1080.51 619.3,1081.85 620.8,1083.14 622.3,1084.39 623.8,1085.6 625.3,1086.76 626.8,1087.89 628.3,1088.97 629.8,1090.01 631.3,1091.01 632.8,1091.98 634.3,1092.9 635.8,1093.79" fill="none" stroke="#000" stroke-width="1.8" stroke-linejoin="round"/>
<path d="M455.8 976.02V967.64M452.6 976.02H459M452.6 967.64H459" stroke="#ff0066" stroke-width="1.7" fill="none"/>
<rect x="452.3" y="968.33" width="7" height="7" fill="#ff0066"/>
<path d="M507.75 997.95V989.57M504.55 997.95H510.95M504.55 989.57H510.95" stroke="#ff0066" stroke-width="1.7" fill="none"/>
<rect x="504.25" y="990.26" width="7" height="7" fill="#ff0066"/>
<path d="M519.05 1018.2V993.62M515.85 1018.2H522.25M515.85 993.62H522.25" stroke="#ff0066" stroke-width="1.7" fill="none"/>
<rect x="515.55" y="1002.41" width="7" height="7" fill="#ff0066"/>
<path d="M529.56 1016.53V989.71M526.36 1016.53H532.76M526.36 989.71H532.76" stroke="#ff0066" stroke-width="1.7" fill="none"/>
<rect x="526.06" y="999.62" width="7" height="7" fill="#ff0066"/>
<path d="M540.47 1017.23V986.5M537.27 1017.23H543.67M537.27 986.5H543.67" stroke="#ff0066" stroke-width="1.7" fill="none"/>
<rect x="536.97" y="998.36" width="7" height="7" fill="#ff0066"/>
<path d="M551.09 998.09V986.92M547.89 998.09H554.29M547.89 986.92H554.29" stroke="#ff0066" stroke-width="1.7" fill="none"/>
<rect x="547.59" y="989" width="7" height="7" fill="#ff0066"/>
<path d="M561.96 1004.24V978.54M558.76 1004.24H565.16M558.76 978.54H565.16" stroke="#ff0066" stroke-width="1.7" fill="none"/>
<rect x="558.46" y="987.89" width="7" height="7" fill="#ff0066"/>
<rect x="632.3" y="1108" width="7" height="7" fill="#ff0066"/>
<path d="M455.8 979.51V964.43M452.6 979.51H459M452.6 964.43H459" stroke="#000" stroke-width="1.7" fill="none"/>
<circle cx="455.8" cy="971.97" r="3.0" fill="#000"/>
<path d="M507.75 1010.24V982.87M504.55 1010.24H510.95M504.55 982.87H510.95" stroke="#000" stroke-width="1.7" fill="none"/>
<circle cx="507.75" cy="996.55" r="3.0" fill="#000"/>
<path d="M519.05 1015.97V985.52M515.85 1015.97H522.25M515.85 985.52H522.25" stroke="#000" stroke-width="1.7" fill="none"/>
<circle cx="519.05" cy="1000.74" r="3.0" fill="#000"/>
<path d="M529.56 1025.33V981.75M526.36 1025.33H532.76M526.36 981.75H532.76" stroke="#000" stroke-width="1.7" fill="none"/>
<circle cx="529.56" cy="1003.54" r="3.0" fill="#000"/>
<path d="M540.47 1003.54V989.57M537.27 1003.54H543.67M537.27 989.57H543.67" stroke="#000" stroke-width="1.7" fill="none"/>
<circle cx="540.47" cy="996.55" r="3.0" fill="#000"/>
<circle cx="551.09" cy="994.18" r="3.0" fill="#000"/>
<path d="M561.96 998.37V986.64M558.76 998.37H565.16M558.76 986.64H565.16" stroke="#000" stroke-width="1.7" fill="none"/>
<circle cx="561.96" cy="992.5" r="3.0" fill="#000"/>
<circle cx="635.8" cy="1111.5" r="3.0" fill="#000"/>
<path d="M612.6 953.6H622.2" stroke="#000" stroke-width="1.6"/>
<circle cx="617.4" cy="953.6" r="3.3" fill="#000"/>
<text x="626.34" y="957.8" font-size="13.73" textLength="44.07" lengthAdjust="spacingAndGlyphs">HepG2</text>
<path d="M612.6 976.4H622.2" stroke="#ff0066" stroke-width="1.6"/>
<rect x="613.9" y="973.1" width="7" height="6.6" fill="#ff0066"/>
<text x="626.34" y="980.4" font-size="13.67" textLength="35.67" lengthAdjust="spacingAndGlyphs">HCT8</text>
<text x="426.73" y="1154" font-size="16.72" textLength="238.57" lengthAdjust="spacingAndGlyphs">Log of Concentrations (<tspan font-family='"Liberation Serif", serif' font-weight="normal">&#956;</tspan>g/ml)</text>
<text transform="translate(385.3 1113.85) rotate(-90)" font-size="13.61" textLength="180.17" lengthAdjust="spacingAndGlyphs">Normalized Absorbance (%)</text>
<text x="514.92" y="912.5" font-family='"Liberation Serif", serif' font-size="19">H)</text></g>
</svg>
</body></html>
